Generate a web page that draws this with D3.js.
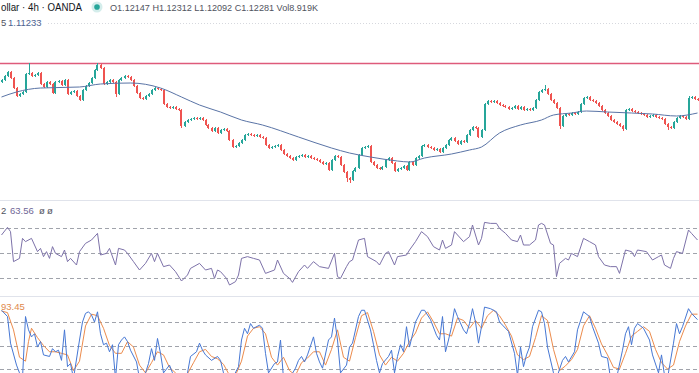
<!DOCTYPE html>
<html>
<head>
<meta charset="utf-8">
<script src="https://cdn.jsdelivr.net/npm/d3@7"></script>
<style>
body { margin: 0; background: #fff; }
svg { display: block; font-family: "Liberation Sans", Arial, sans-serif; }
</style>
</head>
<body>
<div id="chart"></div>
<script>
// Set Dimensions
const width = 699;
const height = 373;

// Candle closes (EUR/USD 4h), open = previous close
const firstOpen = 1.1290;
const closes = [
  1.1300, 1.1320, 1.1340, 1.1310, 1.1260, 1.1220, 1.1230, 1.1240, 1.1330, 1.1335,
  1.1320, 1.1325, 1.1335, 1.1280, 1.1265, 1.1290, 1.1280, 1.1235, 1.1290, 1.1295,
  1.1275, 1.1300, 1.1230, 1.1240, 1.1245, 1.1220, 1.1200, 1.1250, 1.1270, 1.1285,
  1.1310, 1.1350, 1.1375, 1.1360, 1.1280, 1.1290, 1.1300, 1.1290, 1.1230, 1.1300,
  1.1310, 1.1320, 1.1315, 1.1300, 1.1270, 1.1235, 1.1210, 1.1205, 1.1220, 1.1230,
  1.1250, 1.1260, 1.1255, 1.1250, 1.1180, 1.1165, 1.1160, 1.1165, 1.1155, 1.1150,
  1.1070, 1.1090, 1.1100, 1.1105, 1.1110, 1.1105, 1.1110, 1.1100, 1.1075, 1.1060,
  1.1045, 1.1060, 1.1035, 1.1050, 1.1055, 1.1045, 1.1000, 1.0965, 1.0970, 1.0985,
  1.1000, 1.1025, 1.1030, 1.1025, 1.1020, 1.1025, 1.1015, 1.1010, 1.0975, 1.0960,
  1.0965, 1.0970, 1.0975, 1.0950, 1.0930, 1.0920, 1.0910, 1.0900, 1.0915, 1.0920,
  1.0925, 1.0915, 1.0920, 1.0910, 1.0905, 1.0900, 1.0890, 1.0880, 1.0885, 1.0850,
  1.0900, 1.0920, 1.0915, 1.0875, 1.0840, 1.0810, 1.0800, 1.0845, 1.0860, 1.0925,
  1.0960, 1.0965, 1.0970, 1.0890, 1.0875, 1.0860, 1.0855, 1.0865, 1.0900, 1.0910,
  1.0885, 1.0845, 1.0855, 1.0860, 1.0870, 1.0850, 1.0890, 1.0875, 1.0910, 1.0920,
  1.0970, 1.0975, 1.0965, 1.0960, 1.0950, 1.0955, 1.0940, 1.0960, 1.0975, 1.1000,
  1.1010, 1.0995, 1.0980, 1.0995, 1.0990, 1.1025, 1.1050, 1.1065, 1.1060, 1.1015,
  1.1050, 1.1180, 1.1195, 1.1190, 1.1195, 1.1185, 1.1175, 1.1170, 1.1165, 1.1155,
  1.1160, 1.1170, 1.1155, 1.1165, 1.1150, 1.1155, 1.1150, 1.1160, 1.1200, 1.1240,
  1.1250, 1.1255, 1.1230, 1.1200, 1.1185, 1.1160, 1.1070, 1.1120, 1.1130, 1.1125,
  1.1135, 1.1130, 1.1140, 1.1180, 1.1210, 1.1215, 1.1200, 1.1195, 1.1185, 1.1170,
  1.1150, 1.1135, 1.1120, 1.1100, 1.1090, 1.1080, 1.1070, 1.1055, 1.1150, 1.1155,
  1.1145, 1.1140, 1.1135, 1.1130, 1.1125, 1.1115, 1.1120, 1.1125, 1.1115, 1.1110,
  1.1105, 1.1080, 1.1065, 1.1060, 1.1090, 1.1110, 1.1120, 1.1115, 1.1105, 1.1210,
  1.1215, 1.1205, 1.1200
];
// Longer wicks that stand out [candle, price]
const highWicks = [[9, 1.1385], [32, 1.1383], [181, 1.1275], [229, 1.1222]];
const lowWicks = [[38, 1.1215], [60, 1.1062], [115, 1.0790], [116, 1.0785], [186, 1.1055], [207, 1.1045], [222, 1.1050]];
const wickPad = 0.0006;

// Resistance line
const resistance = 1.1383;

// Moving average [candle, value]
const maPoints = [
  [0, 1.1215], [5, 1.1240], [13, 1.1260], [26, 1.1265], [33, 1.1280], [43, 1.1285],
  [53, 1.1260], [60, 1.1215], [66, 1.1175], [73, 1.1140], [80, 1.1100], [87, 1.1075],
  [99, 1.1015], [110, 1.0960], [116, 1.0935], [123, 1.0915], [132, 1.0895], [136, 1.0890],
  [141, 1.0910], [150, 1.0930], [156, 1.0950], [160, 1.0965], [166, 1.1035], [173, 1.1075],
  [180, 1.1100], [184, 1.1125], [190, 1.1135], [195, 1.1145], [202, 1.1140], [210, 1.1135],
  [217, 1.1130], [225, 1.1120], [232, 1.1135]
];

// RSI [candle, value]
const rsiPoints = [
  [0,64.4],[2,70.5],[3,67.1],[4,43.1],[6,45.7],[7,61.7],[8,59.1],[10,61.7],[12,51.1],[13,53.7],
  [14,47.1],[15,51.1],[16,45.7],[17,55.1],[18,49.7],[20,47.1],[21,52.4],[22,43.1],[23,45.7],[25,40.4],
  [26,51.1],[28,57.7],[30,60.4],[32,65.7],[33,48.4],[35,49.7],[36,53.7],[38,40.4],[39,53.7],[41,52.4],
  [42,49.7],[44,43.1],[46,36.4],[48,41.7],[50,49.7],[51,43.1],[52,49.7],[54,39.1],[56,40.4],[58,35.1],
  [60,27.6],[62,32.4],[63,37.7],[66,41.7],[68,36.4],[70,37.7],[71,29.7],[72,36.4],[73,35.1],[75,29.7],
  [76,24.4],[78,27.1],[79,32.4],[80,45.7],[82,47.1],[84,45.7],[86,44.4],[88,33.7],[91,36.4],[92,44.4],
  [94,33.7],[96,29.7],[97,26.5],[99,35.1],[101,40.4],[102,37.7],[104,43.1],[106,39.1],[109,37.7],[111,49.7],
  [112,31.1],[113,29.7],[115,39.1],[116,43.1],[117,44.4],[119,60.4],[121,61.7],[122,47.1],[125,43.1],[126,40.4],
  [128,49.7],[129,51.1],[131,40.4],[132,47.1],[135,48.4],[136,52.4],[138,59.1],[140,67.1],[142,63.1],[144,55.1],
  [146,52.4],[147,60.4],[148,53.7],[150,56.4],[151,67.1],[154,59.1],[156,63.1],[157,72.4],[159,56.4],[160,61.7],
  [161,74.5],[163,73.7],[165,73.7],[166,69.7],[168,65.7],[170,60.4],[172,59.1],[173,64.4],[174,56.4],[176,56.4],
  [178,60.4],[179,72.4],[180,73.7],[181,72.4],[183,57.7],[184,56.4],[185,31.1],[186,41.7],[188,45.7],[189,44.4],
  [190,49.7],[192,47.1],[194,61.7],[196,59.1],[198,56.4],[199,47.1],[201,40.4],[203,39.1],[205,39.1],[206,33.7],
  [208,52.4],[210,51.1],[211,47.1],[212,52.4],[215,51.1],[217,44.4],[219,47.1],[220,48.4],[221,40.4],[223,37.7],
  [224,45.7],[225,51.1],[227,49.7],[229,68.4],[230,65.7],[232,60.4]
];

// Stochastic %K and %D [candle, value]
const stochK = [
  [0,95],[2,87],[3,53],[5,25],[6,15],[7,8],[8,87],[9,70],[10,61],[11,65],[12,48],[13,55],[14,38],[16,36],
  [17,46],[18,42],[19,44],[20,31],[21,70],[22,23],[23,27],[24,8],[26,57],[27,80],[28,91],[29,93],[30,89],
  [31,80],[32,93],[33,65],[34,51],[35,53],[36,42],[37,51],[38,8],[39,51],[40,57],[41,61],[42,55],[43,44],
  [45,29],[46,8],[48,15],[49,27],[50,46],[51,31],[52,59],[53,40],[54,15],[56,25],[57,15],[58,8],[60,8],
  [62,15],[63,36],[65,42],[66,53],[67,44],[68,38],[70,31],[72,36],[73,31],[74,15],[75,8],[77,8],[79,23],
  [80,57],[81,72],[82,65],[83,78],[84,72],[86,76],[87,72],[88,40],[89,15],[91,27],[92,29],[93,57],[94,8],
  [96,8],[98,21],[99,31],[100,36],[101,29],[102,38],[104,61],[105,40],[106,29],[107,21],[109,57],[110,61],
  [111,85],[112,57],[113,15],[115,25],[116,48],[117,53],[119,87],[120,95],[121,95],[123,70],[124,51],[125,31],
  [126,15],[127,27],[129,36],[130,44],[131,15],[132,36],[133,51],[134,42],[135,74],[136,48],[138,80],[140,95],
  [141,95],[143,83],[145,63],[146,57],[147,87],[148,42],[149,57],[150,74],[151,97],[152,87],[154,70],[155,65],
  [156,78],[157,97],[158,80],[159,53],[160,74],[161,99],[163,97],[165,93],[166,80],[167,76],[169,68],[171,40],
  [172,12],[173,48],[174,23],[175,38],[176,48],[177,74],[179,95],[180,93],[181,78],[182,48],[184,15],[185,8],
  [187,31],[188,36],[189,29],[191,42],[192,70],[194,93],[196,87],[197,74],[199,53],[200,36],[202,34],[203,8],
  [205,8],[207,44],[208,65],[209,74],[210,51],[211,72],[212,78],[214,72],[216,57],[217,38],[219,15],[220,38],
  [221,12],[222,8],[224,53],[225,78],[226,65],[227,74],[229,97],[230,91],[232,83]
];
const stochD = [
  [0,94],[2,92],[4,70],[6,35],[8,30],[9,55],[10,72],[12,60],[14,50],[16,42],[18,42],[20,40],[22,38],[24,18],
  [26,30],[28,75],[30,90],[32,88],[34,72],[36,50],[38,40],[40,40],[42,55],[44,48],[46,25],[48,15],[50,28],
  [52,42],[54,38],[56,22],[58,15],[60,10],[62,14],[64,28],[66,42],[68,45],[70,36],[72,33],[74,26],[76,12],
  [78,12],[80,30],[82,62],[84,72],[86,74],[88,65],[90,35],[92,25],[94,35],[96,18],[98,12],[100,28],[102,34],
  [104,42],[106,42],[108,25],[110,45],[112,70],[114,35],[116,30],[118,60],[120,88],[122,92],[124,68],[126,38],
  [128,25],[130,35],[132,30],[134,40],[136,55],[138,66],[140,85],[142,93],[144,80],[146,65],[148,65],[150,62],
  [152,85],[154,82],[156,72],[158,82],[160,72],[162,88],[164,95],[166,88],[168,76],[170,62],[172,38],[174,32],
  [176,36],[178,60],[180,88],[182,82],[184,45],[186,18],[188,24],[190,32],[192,45],[194,75],[196,88],[198,72],
  [200,52],[202,38],[204,22],[206,20],[208,40],[210,62],[212,68],[214,74],[216,68],[218,45],[220,28],[222,20],
  [224,25],[226,55],[228,75],[230,90],[232,90]
];

// Guide levels
const rsiLevels = [70, 50, 30];
const stochLevels = [80, 50, 20];

// Legend texts (only the part that shows in the window)
const titleText = "ollar \u00b7 4h \u00b7 OANDA";
const ohlcText = "O1.12147 H1.12312 L1.12092 C1.12281 Vol8.919K";
const maLabel = "5";
const maText = "1.11233";
const rsiLabel = "2";
const rsiText = "63.56";
const rsiEmpty = ["\u00f8", "\u00f8"];
const stochText = "93.45";

// Colors
const upColor = "#26a69a";
const downColor = "#ef5350";

const svg = d3.select("#chart")
  .append("svg")
  .attr("width", width)
  .attr("height", height);

svg.append("rect").attr("width", width).attr("height", height).attr("fill", "#fff");

// Scales
const x = d3.scaleLinear().domain([0, closes.length]).range([0, width]);
const yPrice = d3.scaleLinear().domain([1.08, 1.14]).range([180, 60]);
const yRsi = d3.scaleLinear().domain([30, 70]).range([278, 228]);
const yStoch = d3.scaleLinear().domain([20, 80]).range([369, 322]);

// Build candles
const hiMap = new Map(highWicks);
const loMap = new Map(lowWicks);
const candles = closes.map(function (c, i) {
  const o = i === 0 ? firstOpen : closes[i - 1];
  return {
    i: i,
    open: o,
    close: c,
    high: hiMap.has(i) ? hiMap.get(i) : Math.max(o, c) + wickPad,
    low: loMap.has(i) ? loMap.get(i) : Math.min(o, c) - wickPad
  };
});

// Panel separators
svg.selectAll("line.sep")
  .data([200.5, 296.5])
  .enter()
  .append("line")
  .attr("class", "sep")
  .attr("x1", 0).attr("x2", width)
  .attr("y1", d => d).attr("y2", d => d)
  .attr("stroke", "#e0e3eb");

// Faint dotted line next to the MA legend
svg.append("line")
  .attr("x1", 48).attr("x2", width)
  .attr("y1", 23.5).attr("y2", 23.5)
  .attr("stroke", "#d6d8de")
  .attr("stroke-dasharray", "1,2");

// Resistance line
svg.append("line")
  .attr("x1", 0).attr("x2", width)
  .attr("y1", yPrice(resistance)).attr("y2", yPrice(resistance))
  .attr("stroke", "#de5b7b")
  .attr("stroke-width", 1.5);

// Wicks
const g = svg.append("g").attr("shape-rendering", "crispEdges");
g.selectAll("rect.wick")
  .data(candles)
  .enter()
  .append("rect")
  .attr("class", "wick")
  .attr("x", d => Math.round(x(d.i + 0.5)) - 0.5)
  .attr("width", 1)
  .attr("y", d => yPrice(d.high))
  .attr("height", d => yPrice(d.low) - yPrice(d.high))
  .attr("fill", d => d.close >= d.open ? upColor : downColor);

// Bodies
g.selectAll("rect.body")
  .data(candles)
  .enter()
  .append("rect")
  .attr("class", "body")
  .attr("x", d => Math.round(x(d.i + 0.5)) - 1)
  .attr("width", 2)
  .attr("y", d => yPrice(Math.max(d.open, d.close)))
  .attr("height", d => Math.max(1, Math.abs(yPrice(d.open) - yPrice(d.close))))
  .attr("fill", d => d.close >= d.open ? upColor : downColor);

// Line generator for indicator series
const lineFor = function (yScale, curve) {
  return d3.line()
    .x(d => x(d[0] + 0.5))
    .y(d => yScale(d[1]))
    .curve(curve || d3.curveLinear);
};

// Moving average
svg.append("path")
  .datum(maPoints)
  .attr("fill", "none")
  .attr("stroke", "#5a74a6")
  .attr("stroke-width", 1)
  .attr("d", lineFor(yPrice, d3.curveMonotoneX));

// RSI panel
svg.selectAll("line.rsiLevel")
  .data(rsiLevels)
  .enter()
  .append("line")
  .attr("class", "rsiLevel")
  .attr("x1", 0).attr("x2", width)
  .attr("y1", d => Math.round(yRsi(d)) + 0.5).attr("y2", d => Math.round(yRsi(d)) + 0.5)
  .attr("stroke", "#a0a3ab")
  .attr("stroke-dasharray", "4,3");

svg.append("path")
  .datum(rsiPoints)
  .attr("fill", "none")
  .attr("stroke", "#7d72a9")
  .attr("stroke-width", 1)
  .attr("d", lineFor(yRsi));

// Stochastic panel
svg.selectAll("line.stochLevel")
  .data(stochLevels)
  .enter()
  .append("line")
  .attr("class", "stochLevel")
  .attr("x1", 0).attr("x2", width)
  .attr("y1", d => Math.round(yStoch(d)) + 0.5).attr("y2", d => Math.round(yStoch(d)) + 0.5)
  .attr("stroke", "#a0a3ab")
  .attr("stroke-dasharray", "4,3");

svg.append("path")
  .datum(stochD)
  .attr("fill", "none")
  .attr("stroke", "#ec8b4c")
  .attr("stroke-width", 1)
  .attr("d", lineFor(yStoch));

svg.append("path")
  .datum(stochK)
  .attr("fill", "none")
  .attr("stroke", "#4677d4")
  .attr("stroke-width", 1)
  .attr("d", lineFor(yStoch));

// Legends
svg.append("text")
  .attr("x", 1).attr("y", 11)
  .attr("font-size", 11)
  .attr("fill", "#131722")
  .attr("textLength", 81)
  .attr("lengthAdjust", "spacingAndGlyphs")
  .text(titleText);

svg.append("circle").attr("cx", 97).attr("cy", 7).attr("r", 5.5).attr("fill", "#26a69a").attr("opacity", 0.2);
svg.append("circle").attr("cx", 97).attr("cy", 7).attr("r", 2.8).attr("fill", "#26a69a");

svg.append("text")
  .attr("x", 110).attr("y", 11)
  .attr("font-size", 9.5)
  .attr("fill", "#50535e")
  .attr("textLength", 208)
  .attr("lengthAdjust", "spacingAndGlyphs")
  .text(ohlcText);

svg.append("text")
  .attr("x", 1).attr("y", 26)
  .attr("font-size", 9.5)
  .attr("fill", "#50535e")
  .text(maLabel);

svg.append("text")
  .attr("x", 8).attr("y", 26)
  .attr("font-size", 9.5)
  .attr("fill", "#4d6391")
  .text(maText);

svg.append("text")
  .attr("x", 1).attr("y", 214)
  .attr("font-size", 9.5)
  .attr("fill", "#50535e")
  .text(rsiLabel);

svg.append("text")
  .attr("x", 10).attr("y", 214)
  .attr("font-size", 9.5)
  .attr("fill", "#6f6796")
  .text(rsiText);

svg.selectAll("text.rsiEmpty")
  .data(rsiEmpty)
  .enter()
  .append("text")
  .attr("class", "rsiEmpty")
  .attr("x", (d, i) => 39 + i * 8)
  .attr("y", 214)
  .attr("font-size", 9.5)
  .attr("fill", "#50535e")
  .text(d => d);

svg.append("text")
  .attr("x", 1).attr("y", 310)
  .attr("font-size", 9.5)
  .attr("fill", "#e0894c")
  .text(stochText);
</script>
</body>
</html>
